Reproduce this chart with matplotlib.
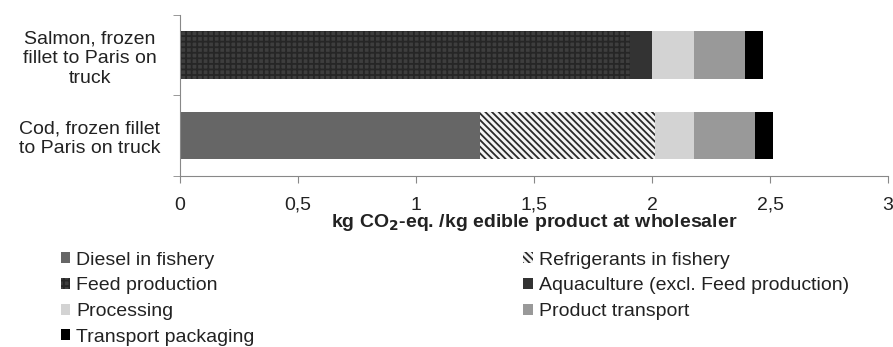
import matplotlib
matplotlib.use('Agg')
import matplotlib.pyplot as plt
from matplotlib.patches import Patch

plt.rcParams['font.family'] = ['Liberation Sans', 'DejaVu Sans']
plt.rcParams['hatch.linewidth'] = 1.3

# data (kg CO2-eq / kg edible product), order: cod, salmon
categories = ['Cod, frozen fillet\nto Paris on truck',
              'Salmon, frozen\nfillet to Paris on\ntruck']
diesel = [1.27, 0.0]
refrigerants = [0.743, 0.0]
feed = [0.0, 1.907]
aquaculture = [0.0, 0.093]
processing = [0.165, 0.178]
product_transport = [0.258, 0.216]
packaging = [0.077, 0.076]

series = [
    ('Diesel in fishery', diesel, dict(color='#666666')),
    ('Refrigerants in fishery', refrigerants, dict(facecolor='#f4f4f4', edgecolor='#2a2a2a', hatch='\\\\\\\\\\')),
    ('Feed production', feed, dict(facecolor='#3e3e3e', edgecolor='#262626', hatch='+++')),
    ('Aquaculture (excl. Feed production)', aquaculture, dict(color='#333333')),
    ('Processing', processing, dict(color='#d3d3d3')),
    ('Product transport', product_transport, dict(color='#999999')),
    ('Transport packaging', packaging, dict(color='#000000')),
]

fig = plt.figure(figsize=(8.93, 3.47), dpi=100)
ax = fig.add_axes([0.2016, 0.493, 0.7928, 0.464])

y = [0, 1]
left = [0.0, 0.0]
handles = {}
for name, vals, style in series:
    ax.barh(y, vals, left=left, height=0.59, linewidth=0, **style)
    handles[name] = Patch(linewidth=0, **style)
    left = [l + v for l, v in zip(left, vals)]

ax.set_xlim(0, 3)
ax.set_ylim(-0.5, 1.5)
ax.set_xticks([0, 0.5, 1, 1.5, 2, 2.5, 3])
ax.set_xticklabels(['0', '0,5', '1', '1,5', '2', '2,5', '3'])
ax.set_yticks(y)
ax.set_yticklabels(categories, ha='center', multialignment='center')
ax.set_yticks([-0.5, 0.5, 1.5], minor=True)
ax.tick_params(axis='y', which='major', length=0, pad=65, labelsize=14, colors='#222222')
ax.tick_params(axis='y', which='minor', length=5, color='#888888')
ax.tick_params(axis='x', length=5, color='#888888', labelsize=14, labelcolor='#222222', pad=10)
for s in ['top', 'right']:
    ax.spines[s].set_visible(False)
for s in ['left', 'bottom']:
    ax.spines[s].set_color('#888888')

ax.set_xlabel(r'kg CO$_\mathbf{2}$-eq. /kg edible product at wholesaler',
              fontsize=14, fontweight='bold', color='#222222', labelpad=-1)

order = ['Diesel in fishery', 'Feed production', 'Processing', 'Transport packaging',
         'Refrigerants in fishery', 'Aquaculture (excl. Feed production)', 'Product transport']
fig.legend([handles[k] for k in order], order, ncol=2, loc='upper left',
           bbox_to_anchor=(0.068, 0.275), frameon=False, fontsize=14,
           handlelength=0.5, handleheight=0.5, handletextpad=0.3,
           labelspacing=0.45, columnspacing=13.8, borderaxespad=0, borderpad=0,
           labelcolor='#222222')

fig.savefig('out.png', dpi=100)
